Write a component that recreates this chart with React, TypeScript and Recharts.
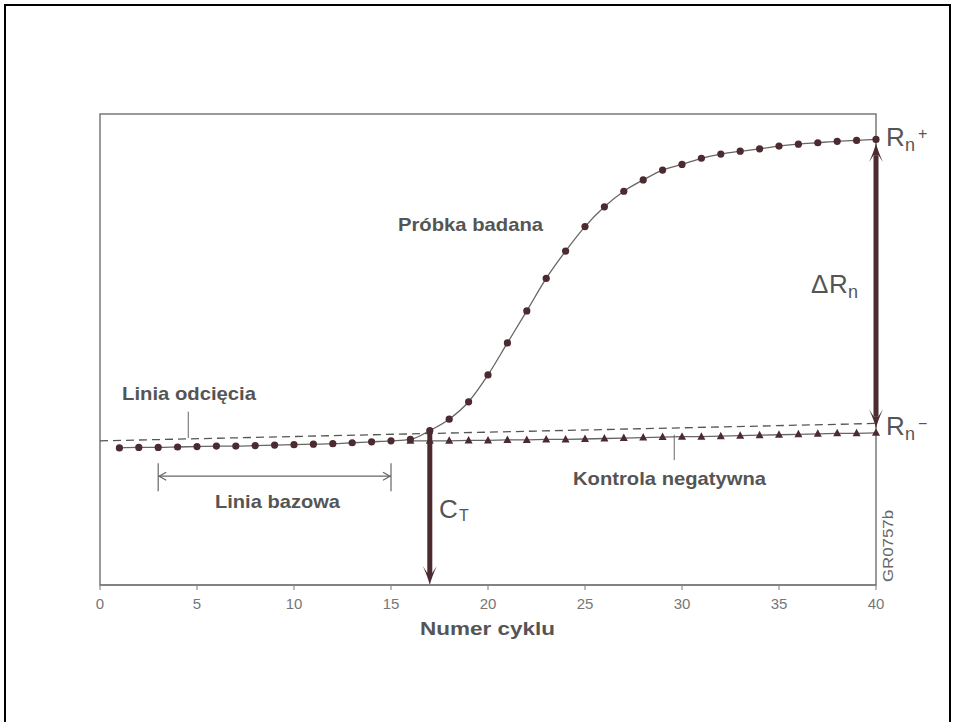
import { ComposedChart, Line, XAxis, YAxis, ReferenceLine, ReferenceArea } from 'recharts';

// cycle numbers and fluorescence readings (arbitrary units, 0-100)
const cycles = [
  1, 2, 3, 4, 5, 6, 7, 8, 9, 10, 11, 12, 13, 14, 15, 16, 17, 18, 19, 20,
  21, 22, 23, 24, 25, 26, 27, 28, 29, 30, 31, 32, 33, 34, 35, 36, 37, 38, 39, 40,
];
const sampleSignal = [
  29.1, 29.2, 29.2, 29.3, 29.4, 29.5, 29.5, 29.6, 29.7, 29.8, 29.9, 30.0, 30.2, 30.4, 30.6,
  30.9, 32.8, 35.2, 38.9, 44.6, 51.4, 58.2, 65.1, 70.9, 76.1, 80.3, 83.6, 86.0, 88.1, 89.3,
  90.6, 91.5, 92.1, 92.6, 93.2, 93.6, 93.9, 94.2, 94.4, 94.6,
];
const controlSignal = [
  null, null, null, null, null, null, null, null, null, null, null, null, null, null, null,
  30.6, 30.6, 30.6, 30.7, 30.7, 30.8, 30.8, 30.9, 30.9, 31.0, 31.1, 31.2, 31.3, 31.4, 31.5,
  31.5, 31.6, 31.7, 31.8, 31.9, 32.0, 32.1, 32.2, 32.2, 32.3,
];
const xTicks = [0, 5, 10, 15, 20, 25, 30, 35, 40];

// annotation values
const thresholdStart = 30.6;
const thresholdEnd = 34.3;
const ctCycle = 17;
const ctSignal = 32.8;
const baselineFrom = 3;
const baselineTo = 15;
const baselineLevel = 23.1;
const rnPlus = 93.8;
const rnMinus = 33.3;

const data = cycles.map((c, i) => ({ cycle: c, sample: sampleSignal[i], control: controlSignal[i] }));

const DARK = '#4b2a30';
const GREY = '#666';
const TEXT = '#555';
const FONT = '"Liberation Sans", Arial, Helvetica, sans-serif';

// barbed arrow head, dir 1 = pointing down, -1 = pointing up
const headPath = (x: number, tip: number, dir: number) => {
  const p = (dx: number, dy: number) => `${x + dx},${tip - dir * dy}`;
  return `M${p(0, 0)} Q${p(-2, 8)} ${p(-7, 19)} L${p(-2.5, 12)} L${p(2.5, 12)} L${p(7, 19)} Q${p(2, 8)} ${p(0, 0)} Z`;
};

const DownArrow = (props: any) => {
  const { x1, y1, x2, y2 } = props;
  const top = Math.min(y1, y2);
  const bottom = Math.max(y1, y2);
  return (
    <g>
      <line x1={x1} x2={x2} y1={top} y2={bottom - 12} stroke={DARK} strokeWidth={5} />
      <path d={headPath(x1, bottom, 1)} fill={DARK} />
    </g>
  );
};

const DoubleArrow = (props: any) => {
  const { x1, y1, y2 } = props;
  const top = Math.min(y1, y2);
  const bottom = Math.max(y1, y2);
  return (
    <g>
      <line x1={x1} x2={x1} y1={top + 12} y2={bottom - 12} stroke={DARK} strokeWidth={5} />
      <path d={headPath(x1, top, -1)} fill={DARK} />
      <path d={headPath(x1, bottom, 1)} fill={DARK} />
    </g>
  );
};

const Bracket = (props: any) => {
  const { x1, x2, y1 } = props;
  const l = Math.min(x1, x2);
  const r = Math.max(x1, x2);
  return (
    <g fill="none" stroke={GREY} strokeWidth={1.2}>
      <line x1={l} x2={r} y1={y1} y2={y1} />
      <polyline points={`${l + 8},${y1 - 4} ${l + 1},${y1} ${l + 8},${y1 + 4}`} />
      <polyline points={`${r - 8},${y1 - 4} ${r - 1},${y1} ${r - 8},${y1 + 4}`} />
      <line x1={l} x2={l} y1={y1 - 13} y2={y1 + 15} />
      <line x1={r} x2={r} y1={y1 - 13} y2={y1 + 15} />
    </g>
  );
};

const Triangle = (props: any) => {
  const { cx, cy } = props;
  if (cy == null || cx == null) return <g />;
  return <polygon points={`${cx},${cy - 4.5} ${cx - 4},${cy + 3} ${cx + 4},${cy + 3}`} fill={DARK} />;
};

const boldText = { fontFamily: FONT, fontWeight: 700, fontSize: 19, fill: TEXT };
const plainText = { fontFamily: FONT, fontWeight: 400, fontSize: 26, fill: TEXT };

const App = () => {
  return (
    <div style={{ position: 'absolute', left: 0, top: 0, width: 955, height: 722, overflow: 'hidden', background: '#fff' }}>
      <div
        style={{
          position: 'absolute', left: 4, top: 4, width: 943, height: 760,
          borderLeft: '2px solid #000', borderTop: '2px solid #000', borderRight: '2px solid #000',
        }}
      />
      <ComposedChart
        width={955}
        height={722}
        data={data}
        margin={{ top: 114, right: 79, bottom: 107, left: 100 }}
        style={{ position: 'absolute', left: 0, top: 0 }}
      >
        <XAxis
          dataKey="cycle"
          type="number"
          domain={[0, 40]}
          ticks={xTicks}
          height={30}
          tickSize={5}
          tickMargin={8}
          axisLine={{ stroke: '#7a7a7a', strokeWidth: 1.5 }}
          tickLine={{ stroke: '#7a7a7a' }}
          tick={{ fill: '#777', fontSize: 15, fontFamily: FONT }}
        />
        <YAxis hide domain={[0, 100]} />
        <ReferenceArea x1={0} x2={40} y1={0} y2={100} fill="none" stroke="#7a7a7a" strokeWidth={1.5} ifOverflow="visible" />
        <ReferenceLine
          segment={[{ x: 0, y: thresholdStart }, { x: 40, y: thresholdEnd }]}
          stroke="#555"
          strokeWidth={1.3}
          strokeDasharray="8 5"
          ifOverflow="visible"
        />
        <ReferenceLine segment={[{ x: 4.55, y: 31.2 }, { x: 4.55, y: 36.8 }]} stroke={GREY} strokeWidth={1} />
        <ReferenceLine segment={[{ x: 29.6, y: 26.5 }, { x: 29.6, y: 31.9 }]} stroke={GREY} strokeWidth={1} />
        <ReferenceLine
          segment={[{ x: baselineFrom, y: baselineLevel }, { x: baselineTo, y: baselineLevel }]}
          shape={Bracket}
        />
        <Line
          dataKey="control"
          type="linear"
          stroke={GREY}
          strokeWidth={1.3}
          dot={Triangle}
          activeDot={false}
          isAnimationActive={false}
        />
        <Line
          dataKey="sample"
          type="monotone"
          stroke={GREY}
          strokeWidth={1.3}
          dot={{ r: 3.6, fill: DARK, stroke: 'none' }}
          activeDot={false}
          isAnimationActive={false}
        />
        <ReferenceLine segment={[{ x: ctCycle, y: ctSignal }, { x: ctCycle, y: 0 }]} shape={DownArrow} ifOverflow="visible" />
        <ReferenceLine segment={[{ x: 40, y: rnPlus }, { x: 40, y: rnMinus }]} shape={DoubleArrow} ifOverflow="visible" />
      </ComposedChart>
      <svg width={955} height={722} style={{ position: 'absolute', left: 0, top: 0, pointerEvents: 'none' }}>
        <text x={398} y={231} {...boldText} textLength={145} lengthAdjust="spacingAndGlyphs">Próbka badana</text>
        <text x={122} y={400} {...boldText} textLength={134} lengthAdjust="spacingAndGlyphs">Linia odcięcia</text>
        <text x={215} y={508} {...boldText} textLength={125} lengthAdjust="spacingAndGlyphs">Linia bazowa</text>
        <text x={573} y={485} {...boldText} textLength={193} lengthAdjust="spacingAndGlyphs">Kontrola negatywna</text>
        <text x={420} y={635} {...boldText} textLength={135} lengthAdjust="spacingAndGlyphs">Numer cyklu</text>

        <text x={439} y={518} {...plainText}>C</text>
        <text x={459} y={521} {...plainText} fontSize={16}>T</text>

        <text x={811} y={293} {...plainText}>Δ</text>
        <text x={829} y={293} {...plainText}>R</text>
        <text x={848} y={298} {...plainText} fontSize={18}>n</text>

        <text x={886} y={146} {...plainText}>R</text>
        <text x={905} y={151} {...plainText} fontSize={18}>n</text>
        <text x={918} y={139} {...plainText} fontSize={16}>+</text>

        <text x={886} y={435} {...plainText}>R</text>
        <text x={905} y={440} {...plainText} fontSize={18}>n</text>
        <text x={918} y={429} {...plainText} fontSize={16}>−</text>

        <text
          transform="translate(893, 582) rotate(-90)"
          fontFamily={FONT}
          fontSize={14}
          fill="#666"
          textLength={72}
          lengthAdjust="spacingAndGlyphs"
        >
          GR0757b
        </text>
      </svg>
    </div>
  );
};

export default App;
